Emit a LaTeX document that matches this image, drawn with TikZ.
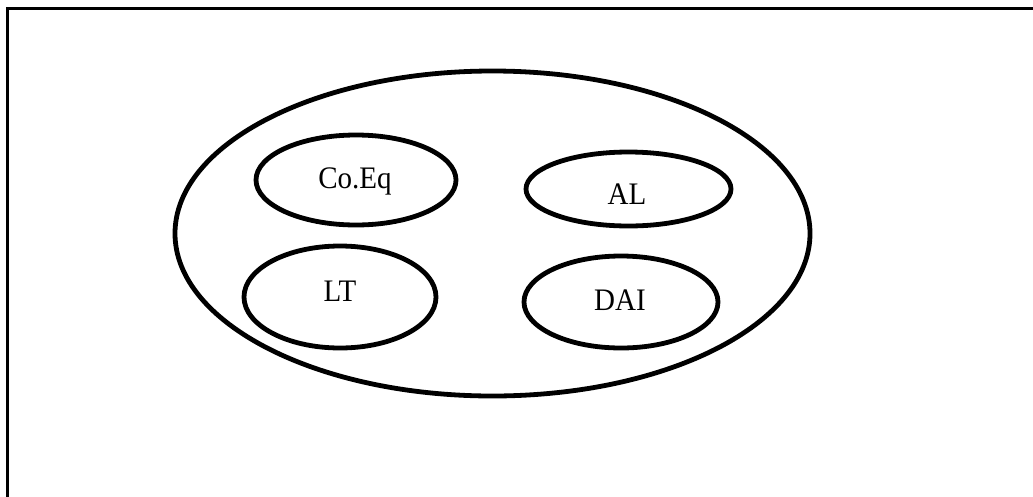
\documentclass[tikz,border=0pt]{standalone}
\usepackage{fontspec}
\setmainfont{Liberation Serif}
\usetikzlibrary{shapes.geometric}
\begin{document}
\begin{tikzpicture}[x=1pt,y=-1pt,
  blob/.style={draw=black, line width=4.8pt, ellipse, inner sep=0pt},
  lbl/.style={inner sep=0pt, font=\fontsize{29}{33}\selectfont, yscale=1.08, text height=19pt, text depth=0pt, anchor=center},
  frameline/.style={draw=black, line width=3pt, line cap=rect}]
\useasboundingbox (0,0) rectangle (1033,496);
% frame (top and left edges only)
\coordinate (ftr) at (1040,8);
\coordinate (ftl) at (7,8);
\coordinate (fbl) at (7,500);
\draw[frameline] (ftr) -- (ftl) -- (fbl);
% outer ellipse
\node[blob, minimum width=635pt, minimum height=325pt] (outer) at (492.5,233.5) {};
% inner ellipses
\node[blob, minimum width=200pt, minimum height=90pt] (coeq) at (356,180) {};
\node[blob, minimum width=205pt, minimum height=74pt] (al) at (628.5,189) {};
\node[blob, minimum width=192pt, minimum height=102pt] (lt) at (340,297) {};
\node[blob, minimum width=194pt, minimum height=92pt] (dai) at (621,302) {};
% labels
\node[lbl] (tcoeq) at (355,178) {Co.Eq};
\node[lbl] (tal) at (627,194) {AL};
\node[lbl] (tlt) at (340,291) {LT};
\node[lbl] (tdai) at (620,300) {DAI};
\end{tikzpicture}
\end{document}
